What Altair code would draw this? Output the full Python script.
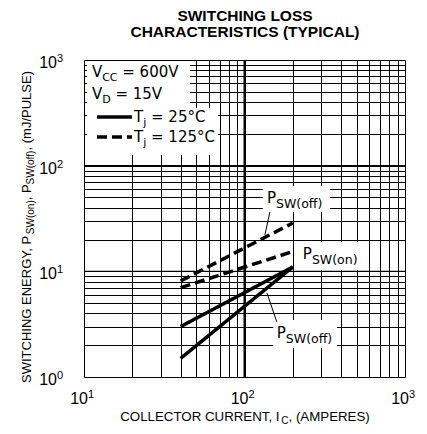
import altair as alt
import pandas as pd

# ---------------- data ----------------
current = [40, 200]                 # collector current, A
psw_on_25 = [3.0, 11.0]             # mJ/pulse, Tj = 25C
psw_off_25 = [1.5, 11.0]
psw_on_125 = [7.0, 15.4]            # Tj = 125C
psw_off_125 = [8.1, 28.7]

x_decades = [10, 100, 1000]
x_exps = ["1", "2", "3"]
y_decades = [1, 10, 100, 1000]
y_exps = ["0", "1", "2", "3"]

x_grid = [m * 10 ** k for k in (1, 2) for m in range(1, 10)] + [1000]
y_grid = [m * 10 ** k for k in (0, 1, 2) for m in range(1, 10)] + [1000]

ARIAL = "Liberation Sans"
DEJAVU = "DejaVu Sans"
W, H = 321, 317

AW = {" ": 278, ",": 278, "(": 333, ")": 333, "/": 278, "=": 584, "°": 400,
      "A": 667, "C": 722, "D": 722, "E": 667, "G": 778, "H": 722, "I": 278,
      "J": 500, "L": 556, "M": 833, "N": 722, "O": 778, "P": 667, "R": 722,
      "S": 667, "T": 611, "U": 722, "V": 667, "W": 944, "Y": 667,
      "m": 833, "o": 556, "n": 556, "f": 278, "j": 222}
DW = {" ": 318, ",": 318, "(": 390, ")": 390, "=": 838, "°": 500,
      "C": 698, "D": 770, "P": 603, "S": 635, "T": 611, "V": 684, "W": 989,
      "f": 352, "j": 278, "n": 634, "o": 612}


def tw(s, size, font=ARIAL):
    table, dflt = (AW, 556) if font == ARIAL else (DW, 636)
    return sum(table.get(ch, dflt) for ch in s) * size / 1000


xs = alt.Scale(type="log", domain=[10, 1000], nice=False)
ys = alt.Scale(type="log", domain=[1, 1000], nice=False)
AX = alt.Axis(values=x_grid, grid=True, labels=False, ticks=False, domain=False,
              title=None, gridColor="black", gridWidth=1, gridOpacity=1)
AY = alt.Axis(values=y_grid, grid=True, labels=False, ticks=False, domain=False,
              title=None, gridColor="black", gridWidth=1, gridOpacity=1)


def X(f):
    return alt.X(f, type="quantitative", scale=xs, axis=AX)


def Y(f):
    return alt.Y(f, type="quantitative", scale=ys, axis=AY)


rows = []
for name, vals, temp in [("on25", psw_on_25, "25°C"), ("off25", psw_off_25, "25°C"),
                         ("on125", psw_on_125, "125°C"), ("off125", psw_off_125, "125°C")]:
    for c, v in zip(current, vals):
        rows.append({"current": c, "energy": v, "series": name, "temp": temp})
df = pd.DataFrame(rows)

DASH = alt.Scale(domain=["25°C", "125°C"], range=[[1, 0], [10, 5]])

layers = []

# heavier decade lines
layers.append(alt.Chart(pd.DataFrame({"x": [100], "y": [1], "y2": [1000]})).mark_rule(
    color="black", strokeWidth=2).encode(x=X("x"), y=Y("y"), y2="y2:Q"))
layers.append(alt.Chart(pd.DataFrame({"y": [10, 100], "x": [10, 10], "x2": [1000, 1000]})).mark_rule(
    color="black", strokeWidth=1.4).encode(y=Y("y"), x=X("x"), x2="x2:Q"))

# white label backgrounds
boxes = pd.DataFrame({
    "x1": [10.44, 10.44, 130, 222, 151],
    "x2": [45.7, 68.4, 341, 540, 377],
    "y1": [351, 126, 36.5, 10.3, 1.88],
    "y2": [978, 351, 64.3, 19.0, 3.47],
})
layers.append(alt.Chart(boxes).mark_rect(color="white").encode(
    x=X("x1"), x2="x2:Q", y=Y("y1"), y2="y2:Q"))

# data lines
layers.append(alt.Chart(df).mark_line(color="black", strokeWidth=3.5, strokeCap="butt").encode(
    x=X("current"), y=Y("energy"), detail="series:N",
    strokeDash=alt.StrokeDash("temp:N", scale=DASH, legend=None)))

# leader lines
leaders = pd.DataFrame({"x": [134, 138], "y": [22.1, 6.25], "x2": [144, 159], "y2": [36.5, 3.32]})
layers.append(alt.Chart(leaders).mark_rule(color="black", strokeWidth=1).encode(
    x=X("x"), y=Y("y"), x2="x2:Q", y2="y2:Q"))

# legend samples
samples = pd.DataFrame({"x": [12.05, 12.05], "x2": [19.9, 19.9], "y": [289, 187],
                        "temp": ["25°C", "125°C"]})
layers.append(alt.Chart(samples).mark_rule(color="black", strokeWidth=3.5, strokeCap="butt").encode(
    x=X("x"), x2="x2:Q", y=Y("y"),
    strokeDash=alt.StrokeDash("temp:N", scale=DASH, legend=None)))


def dtext(x, y, text, size, dx=0, dy=0, font=ARIAL):
    return alt.Chart(pd.DataFrame({"x": [x], "y": [y]})).mark_text(
        text=text, font=font, fontSize=size, align="left", baseline="alphabetic",
        dx=dx, dy=dy, color="black").encode(x=X("x"), y=Y("y"))


def ptext(x, y, text, size, dx=0, dy=0, align="left", angle=0, weight="normal", font=ARIAL):
    return alt.Chart(pd.DataFrame({"k": [0]})).mark_text(
        text=text, font=font, fontSize=size, align=align, baseline="alphabetic",
        dx=dx, dy=dy, angle=angle, fontWeight=weight, color="black").encode(
        x=alt.value(x), y=alt.value(y))


def run_parts(parts, big, small, font):
    """(text, size, offset_along, is_sub) with leading spaces turned into offsets"""
    cum = 0
    out = []
    for s, is_sub in parts:
        size = small if is_sub else big
        stripped = s.lstrip(" ")
        lead = tw(s[:len(s) - len(stripped)], size, font)
        out.append((stripped, size, cum + lead, is_sub))
        cum += tw(s, size, font)
    return out, cum


def subbed(x, y, parts, big, small, sub_dy, font=DEJAVU):
    pieces, _ = run_parts(parts, big, small, font)
    return [dtext(x, y, s, size, dx=off, dy=sub_dy if b else 0, font=font)
            for s, size, off, b in pieces]


# legend text
LB, LS = 15, 11
layers += subbed(11.2, 690, [("V", 0), ("CC", 1), (" = 600V", 0)], LB, LS, 4)
layers += subbed(11.2, 428, [("V", 0), ("D", 1), (" = 15V", 0)], LB, LS, 4)
layers += subbed(20.5, 259, [("T", 0), ("j", 1), (" = 25°C", 0)], LB, LS, 4)
layers += subbed(20.5, 167.5, [("T", 0), ("j", 1), (" = 125°C", 0)], LB, LS, 4)

# curve labels
layers += subbed(138, 44.4, [("P", 0), ("SW(off)", 1)], 15, 12.5, 5)
layers += subbed(231, 13.1, [("P", 0), ("SW(on)", 1)], 15, 12.5, 5)
layers += subbed(159, 2.34, [("P", 0), ("SW(off)", 1)], 15, 12.5, 5)

# tick labels
xt = pd.DataFrame({"x": x_decades, "e": x_exps})
layers.append(alt.Chart(xt).mark_text(text="10", font=ARIAL, fontSize=16, align="right",
                                      baseline="alphabetic", dx=4).encode(
    x=X("x"), y=alt.value(H + 27)))
layers.append(alt.Chart(xt).mark_text(font=ARIAL, fontSize=11, align="left",
                                      baseline="alphabetic", dx=4).encode(
    x=X("x"), y=alt.value(H + 21), text="e:N"))
yt = pd.DataFrame({"y": y_decades, "e": y_exps})
layers.append(alt.Chart(yt).mark_text(text="10", font=ARIAL, fontSize=16, align="right",
                                      baseline="alphabetic", dy=8).encode(
    y=Y("y"), x=alt.value(-27)))
layers.append(alt.Chart(yt).mark_text(font=ARIAL, fontSize=11, align="left",
                                      baseline="alphabetic", dy=2).encode(
    y=Y("y"), x=alt.value(-27), text="e:N"))

# x-axis title
XT, XS = 13.3, 10
xpieces, xtot = run_parts([("COLLECTOR CURRENT, I", 0), ("C", 1), (", (AMPERES)", 0)], XT, XS, ARIAL)
for s, size, off, b in xpieces:
    layers.append(ptext(161 - xtot / 2, H + 44, s, size, dx=off, dy=3 if b else 0))

# y-axis title (rotated, reads bottom to top)
YT, YS = 13, 10
ypieces, ytot = run_parts([("SWITCHING ENERGY, P", 0), ("SW(on)", 1), (", P", 0),
                           ("SW(off)", 1), (", (mJ/PULSE)", 0)], YT, YS, ARIAL)
for s, size, off, b in ypieces:
    layers.append(ptext(-53, 167 + ytot / 2, s, size, dx=off, dy=3 if b else 0, angle=270))

# chart title
layers.append(ptext(161, -39.5, "SWITCHING LOSS", 15.5, align="center", weight="bold"))
layers.append(ptext(161, -23, "CHARACTERISTICS (TYPICAL)", 15.5, align="center", weight="bold"))

chart = alt.layer(*layers).properties(
    width=W, height=H,
    autosize=alt.AutoSizeParams(type="none"),
    padding={"left": 76, "top": 52, "right": 14, "bottom": 49},
).configure_view(stroke="black", strokeWidth=2).configure(background="white")

chart.save("out.html", embed_options={"renderer": "svg", "actions": False})
